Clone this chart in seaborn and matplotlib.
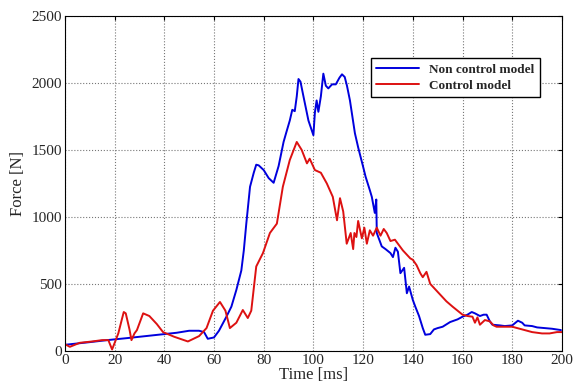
import numpy as np
import pandas as pd
import matplotlib
matplotlib.use("Agg")
import matplotlib.pyplot as plt
import seaborn as sns

# Non control model (blue)
t_nc = [0, 5, 10, 17, 25, 35, 45, 50, 54, 56, 57.5, 60, 62, 65, 67, 69, 71, 72, 73, 74.5, 76, 77, 78,
        80, 82, 84, 86, 88, 89, 90.5, 91.5, 92.5, 93.3, 94, 94.8, 96, 98, 100, 100.6, 101.3, 102, 103, 104,
        105, 106, 107.5, 109, 110.5, 111.5, 112.6, 113.5, 114.7, 116.7, 118, 120, 121, 122.7, 123.5,
        124.7, 125.3, 125.5, 126.3, 127.5, 129, 131, 132, 133, 134, 135, 136.5, 137.6, 138.5, 140, 141,
        142.5, 144, 145, 147, 148.5, 150, 152, 155, 158, 160, 162, 163.7, 165, 167, 168.5, 169.7, 171,
        172, 175, 177, 180, 182.3, 184, 185, 188, 190, 193, 196, 199.6]
f_nc = [45, 55, 65, 80, 95, 115, 135, 150, 150, 140, 90, 100, 150, 255, 330, 455, 600, 750, 950, 1225, 1330, 1390, 1385,
        1350, 1290, 1255, 1380, 1560, 1625, 1720, 1800, 1790, 1900, 2030, 2010, 1900, 1720, 1610, 1780, 1870, 1785, 1900, 2070,
        1980, 1960, 1990, 1990, 2040, 2065, 2045, 1980, 1870, 1625, 1520, 1375, 1300, 1200, 1150,
        1030, 1130, 880, 840, 780, 760, 730, 700, 770, 740, 580, 620, 430, 480, 380, 330,
        260, 170, 120, 125, 160, 170, 180, 215, 235, 255, 270, 290, 280, 260, 270, 270, 220,
        195, 190, 185, 190, 225, 210, 190, 185, 175, 170, 165, 155]

# Control model (red)
t_c = [0, 2, 6, 11, 15, 17.5, 19, 21.5, 23, 23.7, 24.5, 26, 26.8, 28, 29, 31.5, 34, 37, 39.5, 44, 49.5, 54, 57,
       59.6, 62.4, 64.6, 66.4, 69, 71.6, 73.6, 75, 77, 79.7, 82.5, 85.3, 87.7, 90.5, 93.3, 95.3, 97.4, 98.5,
       100.6, 103, 105.4, 107.8, 109.5, 110.7, 112, 113.4, 115, 116, 116.5, 117.3, 118, 119.5, 120.5, 121.5,
       122.7, 124, 125.5, 127, 128.3, 129.5, 131, 132.8, 134, 136, 137.5, 139, 140, 141.5, 143, 144, 145.5,
       147, 148, 150, 152, 153.5, 156, 158, 160, 162, 164, 165, 166, 167, 169, 171, 172.5, 173.7, 177, 180,
       184, 188, 192, 195, 198, 200]
f_c = [50, 30, 60, 70, 80, 80, 10, 130, 240, 290, 280, 160, 80, 130, 155, 280, 260, 200, 140, 105, 70, 110, 170,
       300, 365, 300, 170, 210, 305, 245, 300, 630, 730, 880, 950, 1225, 1425, 1560, 1500, 1400, 1435,
       1350, 1330, 1250, 1150, 975, 1140, 1040, 800, 880, 760, 880, 850, 970, 840, 920, 800,
       900, 860, 920, 860, 910, 880, 820, 830, 800, 750, 720, 690, 680, 640, 580, 550, 590,
       500, 480, 440, 400, 370, 330, 300, 270, 260, 255, 210, 250, 195, 230, 220, 190, 180, 180, 180,
       160, 140, 130, 130, 140, 140]

df = pd.concat([
    pd.DataFrame({"Time": t_nc, "Force": f_nc, "model": "Non control model"}),
    pd.DataFrame({"Time": t_c, "Force": f_c, "model": "Control model"}),
])

sns.set_style("white")
plt.rcParams["font.family"] = ["Liberation Serif", "DejaVu Serif"]
plt.rcParams["xtick.direction"] = "in"
plt.rcParams["ytick.direction"] = "in"

fig = plt.figure(figsize=(5.74, 3.92), dpi=100)
ax = fig.add_axes([0.113, 0.105, 0.866, 0.854])
sns.lineplot(data=df, x="Time", y="Force", hue="model", sort=False, estimator=None,
             palette={"Non control model": "#0000dd", "Control model": "#dd1111"},
             linewidth=1.4, ax=ax)

ax.set_xlim(0, 200)
ax.set_ylim(0, 2500)
ax.set_xticks(range(0, 201, 20))
ax.set_yticks(range(0, 2501, 500))
ax.grid(True, linestyle=":", color="#777777", linewidth=0.8)
for s in ax.spines.values():
    s.set_color("black")
    s.set_linewidth(0.8)
ax.tick_params(labelsize=11, top=True, right=True, length=3, color="black", pad=2)
ax.set_xlabel("Time [ms]", fontsize=12, labelpad=0)
ax.set_ylabel("Force [N]", fontsize=12, labelpad=4)

leg = ax.legend(loc="upper right", bbox_to_anchor=(0.97, 0.895), frameon=True, fancybox=False,
                edgecolor="black", framealpha=1, prop={"weight": "bold", "size": 9.5},
                handlelength=3.2, borderpad=0.45, labelspacing=0.25)
leg.get_frame().set_linewidth(1.0)

fig.savefig("out.png", dpi=100)
